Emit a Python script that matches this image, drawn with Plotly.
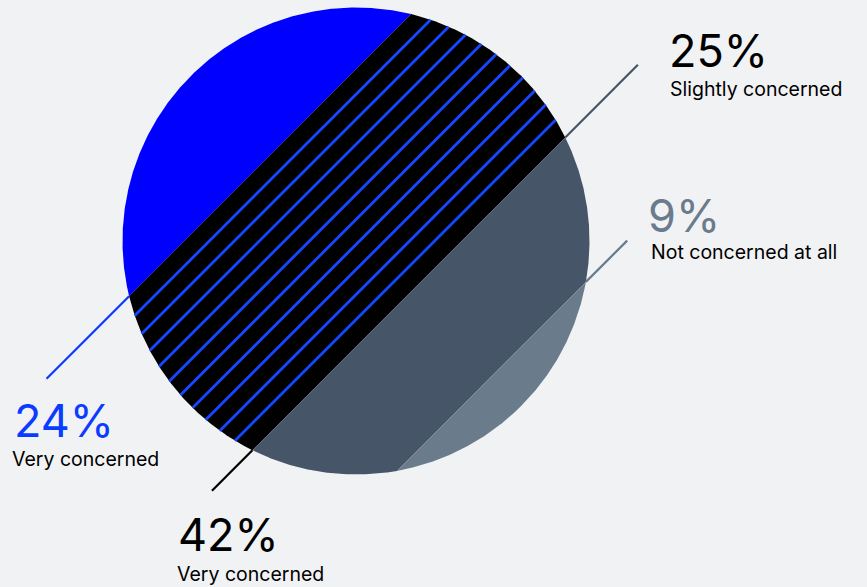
import numpy as np
import plotly.graph_objects as go

# ---- data ----
categories = ["Very concerned", "Very concerned", "Slightly concerned", "Not concerned at all"]
values = [24, 42, 25, 9]
value_labels = ["24%", "42%", "25%", "9%"]

# ---- styles ----
fill_colors = ["#0000ff", "#000000", "#475569", "#6a7b8c"]
label_colors = ["#0a3cff", "#000000", "#000000", "#6a7b8c"]
leader_colors = ["#0a3cff", "#000000", "#475569", "#6a7b8c"]
hatch_color = "#1447ff"
bg = "#f1f2f4"
FONT = "Inter"

W, H = 867, 587
CX, CY, R = 356, 241, 233.5  # circle placement in pixels

# band edges along the diagonal (t from -1 upper-left to +1 lower-right)
cum = np.concatenate([[0], np.cumsum(values)]) / np.sum(values)
edges = -1 + 2 * cum

SQ = np.sqrt(2)


def to_xy(t, s):
    t = np.asarray(t, dtype=float)
    s = np.asarray(s, dtype=float)
    return (t + s) / SQ, (-t + s) / SQ


fig = go.Figure()

# bands
for i in range(len(values)):
    t0, t1 = edges[i], edges[i + 1]
    a1, a0 = np.arccos(np.clip(t1, -1, 1)), np.arccos(np.clip(t0, -1, 1))
    th_up = np.linspace(a1, a0, 200)
    th_dn = np.linspace(-a0, -a1, 200)
    th = np.concatenate([th_up, th_dn])
    x, y = to_xy(np.cos(th), np.sin(th))
    fig.add_trace(go.Scatter(x=x, y=y, mode="lines", fill="toself",
                             fillcolor=fill_colors[i], line=dict(width=0),
                             hoverinfo="skip", showlegend=False))

# hatching of the largest band
spacing = 17.7 / R
t0, t1 = edges[1], edges[2]
hx, hy = [], []
t = t0 + spacing
while t < t1 - spacing * 0.3:
    s = np.sqrt(1 - t * t)
    x, y = to_xy([t, t], [-s, s])
    hx += list(x) + [None]
    hy += list(y) + [None]
    t += spacing
fig.add_trace(go.Scatter(x=hx, y=hy, mode="lines",
                         line=dict(color=hatch_color, width=2.8),
                         hoverinfo="skip", showlegend=False))

# leader lines: (edge index, side, length in radius units)
leaders = [(1, -1, 0.50), (2, -1, 0.245), (2, 1, 0.44), (3, 1, 0.25)]
for i, (ei, side, L) in enumerate(leaders):
    t = edges[ei]
    s0 = np.sqrt(1 - t * t)
    x, y = to_xy([t, t], [side * s0, side * (s0 + L)])
    fig.add_trace(go.Scatter(x=x, y=y, mode="lines",
                             line=dict(color=leader_colors[i], width=2.2),
                             hoverinfo="skip", showlegend=False))

# labels (pixel positions of text boxes)
num_pos = [(12, 391), (176, 505), (667, 21), (646, 186)]
cat_pos = [(10, 445), (175, 560), (668, 75), (649, 238)]
for i in range(len(values)):
    px, py = num_pos[i]
    fig.add_annotation(x=px / W, y=1 - py / H, xref="paper", yref="paper",
                       xanchor="left", yanchor="top", showarrow=False,
                       text=value_labels[i],
                       font=dict(family=FONT, size=45, color=label_colors[i]))
    px, py = cat_pos[i]
    fig.add_annotation(x=px / W, y=1 - py / H, xref="paper", yref="paper",
                       xanchor="left", yanchor="top", showarrow=False,
                       text=categories[i],
                       font=dict(family=FONT, size=19.5, color="#000000"))

fig.update_layout(
    width=W, height=H, margin=dict(l=0, r=0, t=0, b=0),
    paper_bgcolor=bg, plot_bgcolor=bg,
    xaxis=dict(range=[-CX / R, (W - CX) / R], visible=False, fixedrange=True),
    yaxis=dict(range=[-(H - CY) / R, CY / R], visible=False, fixedrange=True),
    showlegend=False,
)

fig.write_html("out.html")
